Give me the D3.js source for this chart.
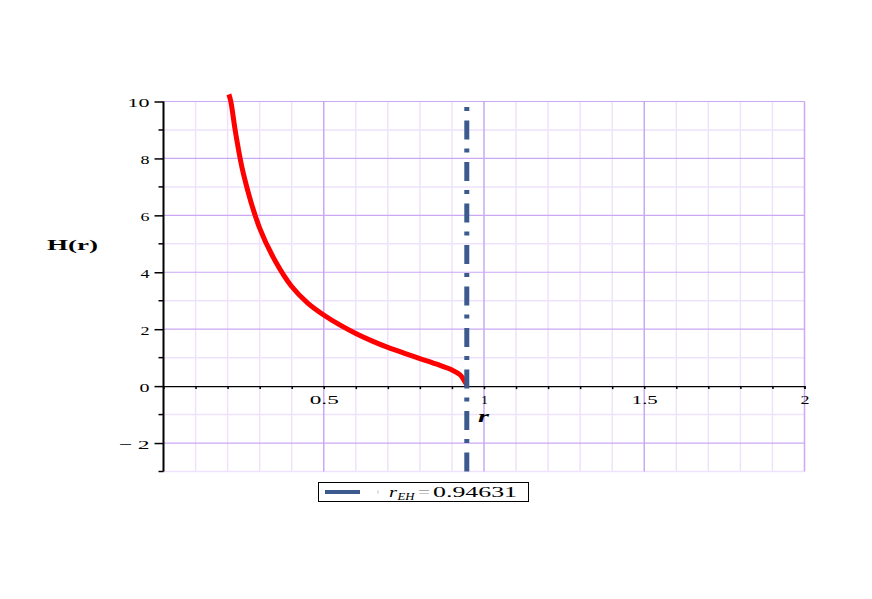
<!DOCTYPE html>
<html>
<head>
<meta charset="utf-8">
<script src="https://cdn.jsdelivr.net/npm/d3@7"></script>
<style>
  body { margin: 0; background: #fff; }
  svg { display: block; }
  text { font-family: "Liberation Serif", "DejaVu Serif", serif; }
</style>
</head>
<body>
<div class="chart"></div>
<script>
// H(r)
const rValues = [0.204, 0.21, 0.225, 0.25, 0.3, 0.35, 0.4, 0.45, 0.5, 0.55, 0.6, 0.65, 0.7, 0.75, 0.8, 0.85, 0.9, 0.925, 0.937, 0.946];
const hValues = [10.25, 10.0, 8.9, 7.43, 5.55, 4.37, 3.5, 2.92, 2.5, 2.15, 1.85, 1.59, 1.36, 1.16, 0.97, 0.78, 0.57, 0.4, 0.22, 0.05];

const rEH = 0.94631;
const xTickLabels = ["0.5", "1", "1.5", "2"];
const xTickValues = [0.5, 1, 1.5, 2];
const yTickValues = [-2, 0, 2, 4, 6, 8, 10];
const yTickLabels = ["\u2212 2", "0", "2", "4", "6", "8", "10"];

const W = 872, H = 599;
let margin = { top: 101.5, right: 67.5, bottom: 127.5, left: 163.5 };
let width = W - margin.left - margin.right;
let height = H - margin.top - margin.bottom;

const svgRoot = d3.select(".chart").append("svg")
  .attr("width", W)
  .attr("height", H);

const svg = svgRoot.append("g")
  .attr("transform", `translate(${margin.left}, ${margin.top})`);

const xScale = d3.scaleLinear().domain([0, 2]).range([0, width]);
const yScale = d3.scaleLinear().domain([-3, 10]).range([height, 0]);

// labels in the picture are stretched sideways, so fix their widths
const stretch = { "0.5": 29, "1": 7, "1.5": 26, "2": 9, "10": 22, "0": 10, "\u2212 2": 31 };
const digitWidth = 9;

// grid: minor then major
const minorX = d3.range(1, 20).map(i => i / 10).filter(v => Math.abs(v * 2 - Math.round(v * 2)) > 1e-6);
const majorX = [0.5, 1, 1.5, 2];
const minorY = [-3, -1, 1, 3, 5, 7, 9];
const majorY = [-2, 2, 4, 6, 8, 10];

svg.append("g").selectAll("line").data(minorX).join("line")
  .attr("x1", d => xScale(d)).attr("x2", d => xScale(d))
  .attr("y1", 0).attr("y2", height)
  .attr("stroke", "#efe2fd").attr("stroke-width", 1.5);
svg.append("g").selectAll("line").data(minorY).join("line")
  .attr("x1", 0).attr("x2", width)
  .attr("y1", d => yScale(d)).attr("y2", d => yScale(d))
  .attr("stroke", "#efe2fd").attr("stroke-width", 1.5);
svg.append("g").selectAll("line").data(majorX).join("line")
  .attr("x1", d => xScale(d)).attr("x2", d => xScale(d))
  .attr("y1", 0).attr("y2", height)
  .attr("stroke", "#cba8f3").attr("stroke-width", 1.5);
svg.append("g").selectAll("line").data(majorY).join("line")
  .attr("x1", 0).attr("x2", width)
  .attr("y1", d => yScale(d)).attr("y2", d => yScale(d))
  .attr("stroke", "#cba8f3").attr("stroke-width", 1.2);

// x axis along H = 0
const xAxis = d3.axisBottom(xScale)
  .tickValues(d3.range(1, 21).map(i => i / 10))
  .tickSize(3)
  .tickFormat(d => {
    const i = xTickValues.findIndex(v => Math.abs(v - d) < 1e-6);
    return i >= 0 ? xTickLabels[i] : "";
  });
const gx = svg.append("g")
  .attr("transform", `translate(0, ${yScale(0)})`)
  .call(xAxis);
gx.select(".domain").attr("stroke", "#000").attr("stroke-width", 1.3);
gx.selectAll(".tick line").attr("stroke", "#000").attr("stroke-width", 1.5);
gx.selectAll(".tick text")
  .attr("dy", null)
  .attr("y", 17.5)
  .style("font-size", "13px")
  .attr("fill", "#000")
  .filter(function () { return this.textContent !== ""; })
  .attr("textLength", function () { return stretch[this.textContent] || digitWidth; })
  .attr("lengthAdjust", "spacingAndGlyphs");

// y axis
const yAxis = d3.axisLeft(yScale)
  .tickValues(yTickValues)
  .tickSize(9)
  .tickFormat((d, i) => yTickLabels[i]);
const gy = svg.append("g").call(yAxis);
gy.select(".domain").attr("stroke", "#000").attr("stroke-width", 2).attr("d", `M0,${height}V0`);
gy.selectAll(".tick line").attr("stroke", "#000").attr("stroke-width", 1.5);
gy.selectAll(".tick text")
  .attr("x", -14)
  .attr("dy", null)
  .attr("y", 5)
  .style("font-size", "13px")
  .attr("fill", "#000")
  .attr("textLength", function () { return stretch[this.textContent] || digitWidth; })
  .attr("lengthAdjust", "spacingAndGlyphs");
svg.append("g").selectAll("line").data(minorY).join("line")
  .attr("x1", -5).attr("x2", 0)
  .attr("y1", d => yScale(d)).attr("y2", d => yScale(d))
  .attr("stroke", "#000").attr("stroke-width", 1.5);

// curve
const curveData = rValues.map((r, i) => ({ r: r, h: hValues[i] }));
const line = d3.line()
  .x(d => xScale(d.r))
  .y(d => yScale(d.h))
  .curve(d3.curveCatmullRom.alpha(0.5));
svg.append("path")
  .datum(curveData)
  .attr("d", line)
  .attr("fill", "none")
  .attr("stroke", "#ff0000")
  .attr("stroke-width", 5);

// event horizon line
const blue = "#3d5a8e";
svg.append("line")
  .attr("x1", xScale(rEH)).attr("x2", xScale(rEH))
  .attr("y1", yScale(-3)).attr("y2", yScale(9.9))
  .attr("stroke", blue)
  .attr("stroke-width", 5)
  .attr("stroke-dasharray", "19,9.5,4,9");

// axis labels
svgRoot.append("text")
  .attr("x", 47).attr("y", 250)
  .style("font-size", "15px").style("font-weight", "bold")
  .attr("textLength", 51).attr("lengthAdjust", "spacingAndGlyphs")
  .text("H(r)");
svgRoot.append("text")
  .attr("x", 478).attr("y", 421.5)
  .style("font-size", "16px").style("font-weight", "bold").style("font-style", "italic")
  .attr("textLength", 11).attr("lengthAdjust", "spacingAndGlyphs")
  .text("r");

// legend
const leg = svgRoot.append("g").attr("transform", "translate(318.5, 482.5)");
leg.append("rect")
  .attr("width", 210).attr("height", 19)
  .attr("fill", "#fff").attr("stroke", "#000").attr("stroke-width", 1);
leg.append("line")
  .attr("x1", 6.5).attr("x2", 41.5).attr("y1", 9.5).attr("y2", 9.5)
  .attr("stroke", blue).attr("stroke-width", 4);
leg.append("rect")
  .attr("x", 59).attr("y", 8).attr("width", 1).attr("height", 3)
  .attr("fill", "#bbb");
leg.append("text").attr("x", 70.5).attr("y", 14.5)
  .style("font-size", "15px").style("font-style", "italic")
  .attr("textLength", 8).attr("lengthAdjust", "spacingAndGlyphs")
  .text("r");
leg.append("text").attr("x", 79).attr("y", 17)
  .style("font-size", "11px").style("font-style", "italic")
  .attr("textLength", 17).attr("lengthAdjust", "spacingAndGlyphs")
  .text("EH");
leg.append("text").attr("x", 99.5).attr("y", 14.5)
  .style("font-size", "15px").attr("fill", "#999")
  .attr("textLength", 12).attr("lengthAdjust", "spacingAndGlyphs")
  .text("=");
leg.append("text").attr("x", 114.5).attr("y", 14.5)
  .style("font-size", "15px")
  .attr("textLength", 84).attr("lengthAdjust", "spacingAndGlyphs")
  .text(rEH);
</script>
</body>
</html>
